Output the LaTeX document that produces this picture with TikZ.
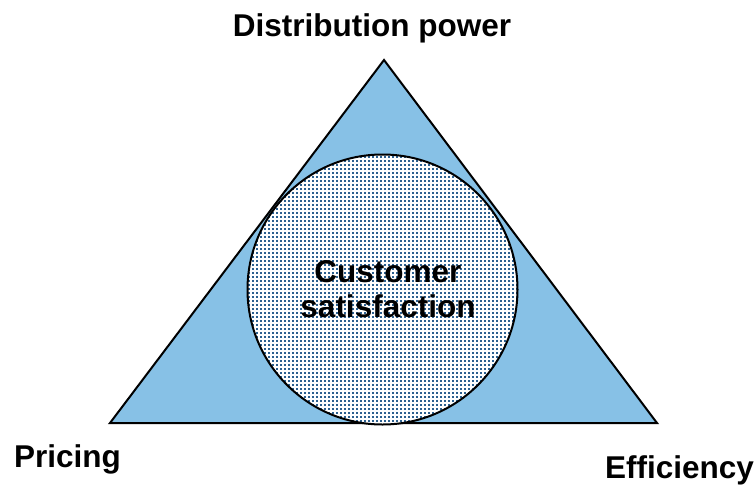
\documentclass[tikz,border=0pt]{standalone}
\usepackage{fontspec}
\setmainfont{Liberation Sans}
\usetikzlibrary{patterns.meta}

\definecolor{trifill}{RGB}{135,193,230}
\definecolor{dotblue}{RGB}{44,96,144}

% small square dots on a 4pt grid
\tikzdeclarepattern{
  name=fine dots,
  type=uncolored,
  bottom left={(0pt,0pt)},
  top right={(4pt,4pt)},
  tile size={(4pt,4pt)},
  code={\fill (0pt,0pt) rectangle (2.3pt,2.3pt);}
}

\tikzset{
  label text/.style={inner sep=0pt, font=\fontsize{31.5}{36}\selectfont\bfseries},
  outline/.style={draw=black, line width=2pt, line join=miter}
}

\begin{document}
\begin{tikzpicture}[x=1pt,y=-1pt]
  \useasboundingbox (0,0) rectangle (755,485);

  % corners of the triangle
  \coordinate (top) at (384,60);
  \coordinate (left) at (110,423);
  \coordinate (right) at (657,423);
  \coordinate (mid) at (382.5,289.5);

  % triangle
  \filldraw[outline, fill=trifill] (top) -- (left) -- (right) -- cycle;

  % dotted circle
  \fill[white] (mid) circle[radius=135];
  \fill[pattern=fine dots, pattern color=dotblue] (mid) circle[radius=135];
  \draw[outline] (mid) circle[radius=135];

  % labels
  \node[label text, anchor=base] (dist) at (372,36) {Distribution power};
  \node[label text, anchor=base west] (price) at (14,467) {Pricing};
  \node[label text, anchor=base west] (eff) at (605,478) {Efficiency};
  \node[label text, anchor=base] (cust) at (388,282) {Customer};
  \node[label text, anchor=base] (sat) at (388,317) {satisfaction};
\end{tikzpicture}
\end{document}
